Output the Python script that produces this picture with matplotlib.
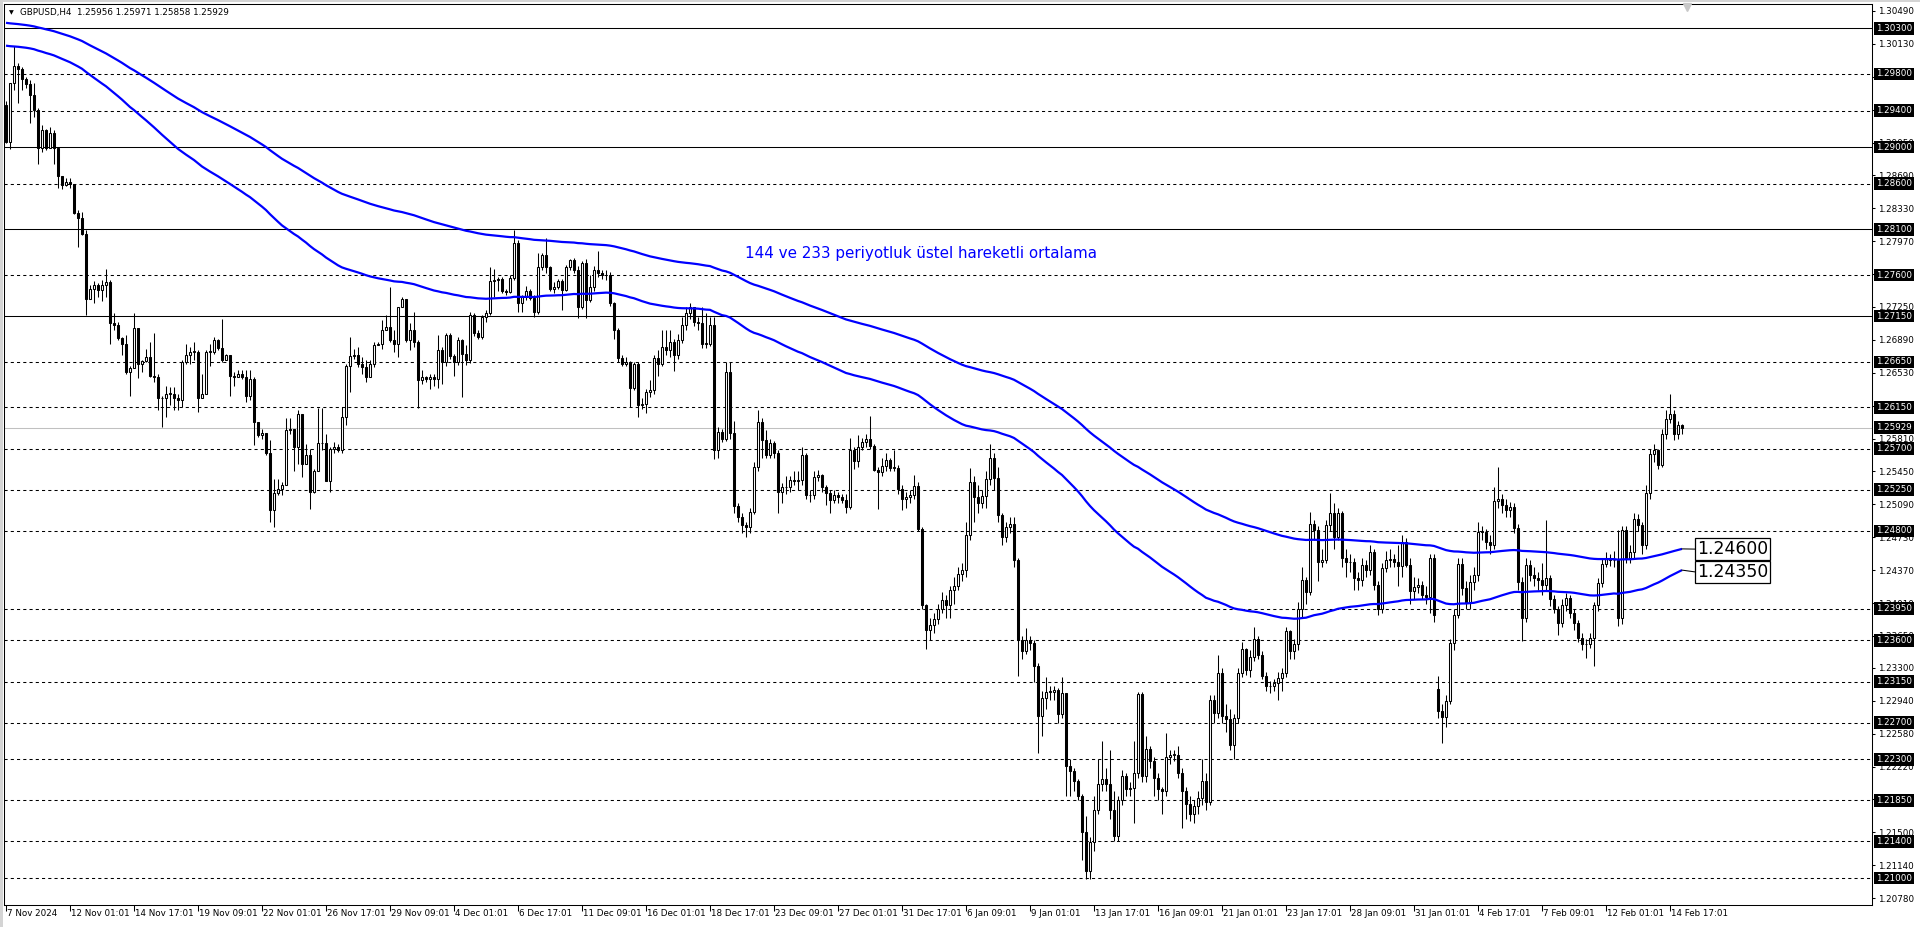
import matplotlib
matplotlib.use("Agg")
import matplotlib.pyplot as plt
import matplotlib.transforms as mtransforms
from matplotlib.patches import Rectangle
import numpy as np

plt.rcParams['font.family'] = ['DejaVu Sans']

# ---------------- data ----------------
title_text = "GBPUSD,H4  1.25956 1.25971 1.25858 1.25929"
annotation = "144 ve 233 periyotluk üstel hareketli ortalama"

first_open = 1.2946
gap_opens = {358: 1.2307}

close = [
    1.2906, 1.2970, 1.2989, 1.2985, 1.2974, 1.2969, 1.2957, 1.2941, 1.2899, 1.2919,
    1.2899, 1.2915, 1.2899, 1.2868, 1.2858, 1.2862, 1.2860, 1.2828, 1.2822, 1.2805,
    1.2734, 1.2745, 1.2749, 1.2744, 1.2749, 1.2752, 1.2707, 1.2705, 1.2691, 1.2685,
    1.2654, 1.2658, 1.2702, 1.2663, 1.2666, 1.2670, 1.2650, 1.2648, 1.2625, 1.2625,
    1.2630, 1.2630, 1.2625, 1.2623, 1.2665, 1.2672, 1.2676, 1.2676, 1.2625, 1.2630,
    1.2676, 1.2676, 1.2689, 1.2680, 1.2667, 1.2672, 1.2650, 1.2648, 1.2652, 1.2648,
    1.2628, 1.2646, 1.2599, 1.2585, 1.2587, 1.2565, 1.2503, 1.2521, 1.2526, 1.2530,
    1.2590, 1.2592, 1.2572, 1.2608, 1.2553, 1.2563, 1.2523, 1.2546, 1.2576, 1.2576,
    1.2535, 1.2570, 1.2572, 1.2568, 1.2605, 1.2660, 1.2671, 1.2672, 1.2663, 1.2659,
    1.2648, 1.2663, 1.2683, 1.2685, 1.2700, 1.2703, 1.2689, 1.2685, 1.2725, 1.2734,
    1.2689, 1.2700, 1.2687, 1.2645, 1.2648, 1.2646, 1.2648, 1.2646, 1.2678, 1.2665,
    1.2694, 1.2671, 1.2665, 1.2689, 1.2674, 1.2667, 1.2716, 1.2696, 1.2692, 1.2714,
    1.2718, 1.2753, 1.2754, 1.2756, 1.2742, 1.2741, 1.2757, 1.2795, 1.2729, 1.2736,
    1.2742, 1.2735, 1.2719, 1.2769, 1.2782, 1.2769, 1.2745, 1.2747, 1.2753, 1.2744,
    1.2769, 1.2776, 1.2765, 1.2725, 1.2773, 1.2733, 1.2747, 1.2765, 1.2762, 1.2760,
    1.2760, 1.2729, 1.2700, 1.2669, 1.2663, 1.2665, 1.2636, 1.2663, 1.2618, 1.2619,
    1.2632, 1.2634, 1.2669, 1.2663, 1.2681, 1.2678, 1.2687, 1.2672, 1.2689, 1.2705,
    1.2718, 1.2725, 1.2709, 1.2707, 1.2685, 1.2685, 1.2705, 1.2569, 1.2588, 1.2581,
    1.2654, 1.2587, 1.2507, 1.2495, 1.2486, 1.2484, 1.2501, 1.2550, 1.2599, 1.2579,
    1.2563, 1.2576, 1.2565, 1.2523, 1.2528, 1.2528, 1.2536, 1.2535, 1.2536, 1.2563,
    1.2519, 1.2519, 1.2539, 1.2541, 1.2528, 1.2521, 1.2514, 1.2519, 1.2517, 1.2514,
    1.2506, 1.2569, 1.2556, 1.2572, 1.2577, 1.2581, 1.2573, 1.2547, 1.2544, 1.2551,
    1.2557, 1.2549, 1.2549, 1.2526, 1.2515, 1.2517, 1.2519, 1.2529, 1.2482, 1.2399,
    1.2371, 1.2377, 1.2384, 1.2395, 1.2404, 1.2399, 1.2415, 1.2420, 1.2433, 1.2437,
    1.2475, 1.2533, 1.2517, 1.2511, 1.2518, 1.2537, 1.2560, 1.2538, 1.2497, 1.2473,
    1.2484, 1.2487, 1.2448, 1.2360, 1.2348, 1.2360, 1.2357, 1.2332, 1.2277, 1.2297,
    1.2304, 1.2304, 1.2306, 1.2279, 1.2302, 1.2223, 1.2217, 1.2206, 1.2190, 1.2150,
    1.2108, 1.2139, 1.2174, 1.2203, 1.2208, 1.2203, 1.2175, 1.2146, 1.2185, 1.2212,
    1.2197, 1.2199, 1.2215, 1.2301, 1.2212, 1.2241, 1.2228, 1.2210, 1.2197, 1.2195,
    1.2233, 1.2235, 1.2235, 1.2215, 1.2195, 1.2181, 1.2170, 1.2179, 1.2188, 1.2206,
    1.2183, 1.2295, 1.2281, 1.2324, 1.2277, 1.2274, 1.2246, 1.2275, 1.2324, 1.2351,
    1.2328, 1.2342, 1.2362, 1.2344, 1.2321, 1.2310, 1.2310, 1.2313, 1.2319, 1.2324,
    1.2370, 1.2348, 1.2356, 1.2395, 1.2426, 1.2413, 1.2488, 1.2481, 1.2446, 1.2448,
    1.2486, 1.2499, 1.2473, 1.2499, 1.2450, 1.2446, 1.2446, 1.2428, 1.2426, 1.2443,
    1.2437, 1.2457, 1.2421, 1.2395, 1.2439, 1.2448, 1.2449, 1.2446, 1.2441, 1.2468,
    1.2443, 1.2414, 1.2419, 1.2421, 1.2410, 1.2408, 1.2450, 1.2388, 1.2283, 1.2276,
    1.2294, 1.2357, 1.2388, 1.2444, 1.2417, 1.2401, 1.2424, 1.2432, 1.2479, 1.2479,
    1.2468, 1.2465, 1.2513, 1.2515, 1.2508, 1.2503, 1.2506, 1.2483, 1.2424, 1.2385,
    1.2443, 1.2432, 1.2428, 1.2426, 1.2421, 1.2428, 1.2405, 1.2395, 1.2379, 1.2399,
    1.2406, 1.2390, 1.2379, 1.2363, 1.2356, 1.2356, 1.2363, 1.2399, 1.2423, 1.2444,
    1.2450, 1.2448, 1.2448, 1.2385, 1.2481, 1.2450, 1.2457, 1.2493, 1.2486, 1.2464,
    1.2521, 1.2564, 1.2568, 1.2552, 1.2586, 1.2602, 1.2608, 1.2586, 1.2596, 1.2593,
]

high = [
    1.2950, 1.2970, 1.3011, 1.2992, 1.2988, 1.2977, 1.2973, 1.2970, 1.2943, 1.2924,
    1.2920, 1.2922, 1.2919, 1.2899, 1.2868, 1.2866, 1.2866, 1.2860, 1.2831, 1.2829,
    1.2809, 1.2749, 1.2753, 1.2751, 1.2754, 1.2767, 1.2754, 1.2718, 1.2709, 1.2692,
    1.2694, 1.2660, 1.2718, 1.2702, 1.2667, 1.2679, 1.2687, 1.2696, 1.2652, 1.2628,
    1.2639, 1.2637, 1.2637, 1.2630, 1.2667, 1.2685, 1.2681, 1.2687, 1.2678, 1.2652,
    1.2678, 1.2685, 1.2692, 1.2690, 1.2712, 1.2674, 1.2672, 1.2654, 1.2656, 1.2656,
    1.2656, 1.2656, 1.2648, 1.2599, 1.2592, 1.2581, 1.2579, 1.2537, 1.2537, 1.2533,
    1.2603, 1.2603, 1.2592, 1.2612, 1.2608, 1.2575, 1.2570, 1.2548, 1.2614, 1.2614,
    1.2586, 1.2572, 1.2577, 1.2575, 1.2616, 1.2663, 1.2692, 1.2679, 1.2681, 1.2670,
    1.2667, 1.2667, 1.2687, 1.2687, 1.2711, 1.2716, 1.2747, 1.2700, 1.2725, 1.2736,
    1.2729, 1.2707, 1.2720, 1.2689, 1.2656, 1.2650, 1.2652, 1.2652, 1.2694, 1.2681,
    1.2696, 1.2696, 1.2674, 1.2692, 1.2690, 1.2683, 1.2719, 1.2718, 1.2700, 1.2716,
    1.2722, 1.2769, 1.2767, 1.2758, 1.2758, 1.2745, 1.2760, 1.2809, 1.2798, 1.2738,
    1.2748, 1.2745, 1.2738, 1.2784, 1.2784, 1.2800, 1.2770, 1.2752, 1.2756, 1.2756,
    1.2771, 1.2778, 1.2779, 1.2770, 1.2775, 1.2778, 1.2760, 1.2770, 1.2786, 1.2766,
    1.2766, 1.2763, 1.2731, 1.2702, 1.2672, 1.2670, 1.2666, 1.2665, 1.2665, 1.2625,
    1.2635, 1.2645, 1.2672, 1.2678, 1.2700, 1.2700, 1.2700, 1.2690, 1.2695, 1.2714,
    1.2725, 1.2729, 1.2725, 1.2714, 1.2725, 1.2718, 1.2714, 1.2714, 1.2594, 1.2592,
    1.2665, 1.2665, 1.2600, 1.2510, 1.2500, 1.2490, 1.2505, 1.2555, 1.2612, 1.2603,
    1.2590, 1.2580, 1.2578, 1.2568, 1.2532, 1.2540, 1.2540, 1.2545, 1.2545, 1.2572,
    1.2565, 1.2525, 1.2545, 1.2547, 1.2542, 1.2530, 1.2525, 1.2525, 1.2522, 1.2520,
    1.2520, 1.2582, 1.2572, 1.2585, 1.2582, 1.2586, 1.2606, 1.2575, 1.2550, 1.2560,
    1.2565, 1.2560, 1.2569, 1.2552, 1.2530, 1.2522, 1.2525, 1.2541, 1.2533, 1.2484,
    1.2400, 1.2385, 1.2390, 1.2400, 1.2413, 1.2410, 1.2420, 1.2430, 1.2440, 1.2445,
    1.2490, 1.2549, 1.2540, 1.2530, 1.2525, 1.2545, 1.2575, 1.2565, 1.2550, 1.2500,
    1.2490, 1.2495, 1.2495, 1.2450, 1.2365, 1.2374, 1.2365, 1.2360, 1.2335, 1.2305,
    1.2320, 1.2310, 1.2310, 1.2308, 1.2320, 1.2303, 1.2230, 1.2220, 1.2208, 1.2192,
    1.2168, 1.2145, 1.2190, 1.2230, 1.2250, 1.2220, 1.2240, 1.2195, 1.2190, 1.2218,
    1.2215, 1.2205, 1.2250, 1.2304, 1.2304, 1.2255, 1.2245, 1.2232, 1.2215, 1.2200,
    1.2259, 1.2240, 1.2240, 1.2245, 1.2220, 1.2200, 1.2190, 1.2185, 1.2195, 1.2230,
    1.2215, 1.2300, 1.2300, 1.2344, 1.2330, 1.2290, 1.2285, 1.2280, 1.2330, 1.2358,
    1.2352, 1.2350, 1.2375, 1.2365, 1.2348, 1.2325, 1.2316, 1.2318, 1.2325, 1.2330,
    1.2375, 1.2372, 1.2362, 1.2402, 1.2440, 1.2430, 1.2501, 1.2492, 1.2485, 1.2460,
    1.2492, 1.2521, 1.2510, 1.2505, 1.2502, 1.2460, 1.2455, 1.2450, 1.2435, 1.2450,
    1.2448, 1.2465, 1.2460, 1.2425, 1.2445, 1.2458, 1.2460, 1.2455, 1.2465, 1.2475,
    1.2472, 1.2450, 1.2430, 1.2428, 1.2425, 1.2420, 1.2455, 1.2455, 1.2321, 1.2290,
    1.2300, 1.2362, 1.2395, 1.2450, 1.2450, 1.2425, 1.2432, 1.2440, 1.2490, 1.2485,
    1.2482, 1.2475, 1.2528, 1.2550, 1.2520, 1.2515, 1.2512, 1.2510, 1.2488, 1.2430,
    1.2450, 1.2448, 1.2440, 1.2435, 1.2445, 1.2492, 1.2432, 1.2410, 1.2398, 1.2405,
    1.2412, 1.2410, 1.2395, 1.2382, 1.2368, 1.2362, 1.2368, 1.2402, 1.2428, 1.2450,
    1.2457, 1.2455, 1.2458, 1.2481, 1.2485, 1.2485, 1.2465, 1.2500, 1.2498, 1.2490,
    1.2530, 1.2570, 1.2575, 1.2570, 1.2592, 1.2612, 1.2630, 1.2612, 1.2600, 1.2597,
]

low = [
    1.2904, 1.2898, 1.2963, 1.2948, 1.2963, 1.2965, 1.2926, 1.2933, 1.2882, 1.2895,
    1.2897, 1.2899, 1.2882, 1.2855, 1.2854, 1.2857, 1.2855, 1.2827, 1.2791, 1.2804,
    1.2716, 1.2734, 1.2729, 1.2736, 1.2732, 1.2736, 1.2685, 1.2700, 1.2689, 1.2672,
    1.2652, 1.2628, 1.2658, 1.2647, 1.2654, 1.2665, 1.2648, 1.2643, 1.2612, 1.2594,
    1.2605, 1.2618, 1.2612, 1.2612, 1.2616, 1.2663, 1.2663, 1.2667, 1.2610, 1.2625,
    1.2630, 1.2660, 1.2674, 1.2678, 1.2665, 1.2667, 1.2628, 1.2639, 1.2648, 1.2646,
    1.2621, 1.2623, 1.2574, 1.2583, 1.2581, 1.2563, 1.2490, 1.2484, 1.2519, 1.2519,
    1.2570, 1.2586, 1.2546, 1.2553, 1.2539, 1.2553, 1.2504, 1.2521, 1.2545, 1.2568,
    1.2534, 1.2523, 1.2565, 1.2566, 1.2565, 1.2596, 1.2632, 1.2668, 1.2659, 1.2652,
    1.2643, 1.2648, 1.2659, 1.2683, 1.2679, 1.2700, 1.2687, 1.2676, 1.2670, 1.2725,
    1.2687, 1.2678, 1.2681, 1.2614, 1.2641, 1.2643, 1.2635, 1.2638, 1.2636, 1.2641,
    1.2660, 1.2668, 1.2649, 1.2662, 1.2627, 1.2662, 1.2664, 1.2693, 1.2690, 1.2690,
    1.2709, 1.2716, 1.2736, 1.2742, 1.2740, 1.2738, 1.2740, 1.2755, 1.2720, 1.2720,
    1.2733, 1.2733, 1.2714, 1.2717, 1.2765, 1.2762, 1.2742, 1.2740, 1.2745, 1.2722,
    1.2742, 1.2765, 1.2762, 1.2713, 1.2723, 1.2713, 1.2730, 1.2742, 1.2758, 1.2756,
    1.2755, 1.2726, 1.2690, 1.2665, 1.2660, 1.2660, 1.2616, 1.2634, 1.2605, 1.2613,
    1.2609, 1.2627, 1.2630, 1.2650, 1.2660, 1.2672, 1.2670, 1.2655, 1.2668, 1.2686,
    1.2700, 1.2712, 1.2704, 1.2700, 1.2680, 1.2680, 1.2682, 1.2559, 1.2560, 1.2577,
    1.2578, 1.2580, 1.2500, 1.2490, 1.2478, 1.2473, 1.2478, 1.2498, 1.2545, 1.2560,
    1.2560, 1.2560, 1.2560, 1.2500, 1.2510, 1.2520, 1.2522, 1.2530, 1.2525, 1.2530,
    1.2515, 1.2512, 1.2515, 1.2535, 1.2522, 1.2508, 1.2500, 1.2510, 1.2510, 1.2510,
    1.2500, 1.2504, 1.2548, 1.2550, 1.2568, 1.2572, 1.2570, 1.2545, 1.2504, 1.2540,
    1.2545, 1.2545, 1.2545, 1.2520, 1.2503, 1.2505, 1.2510, 1.2515, 1.2480, 1.2394,
    1.2351, 1.2360, 1.2368, 1.2378, 1.2390, 1.2385, 1.2385, 1.2400, 1.2415, 1.2425,
    1.2430, 1.2470, 1.2490, 1.2500, 1.2505, 1.2505, 1.2530, 1.2525, 1.2490, 1.2465,
    1.2468, 1.2478, 1.2440, 1.2321, 1.2340, 1.2345, 1.2350, 1.2315, 1.2237, 1.2255,
    1.2285, 1.2295, 1.2295, 1.2270, 1.2275, 1.2190, 1.2190, 1.2195, 1.2185, 1.2120,
    1.2099, 1.2099, 1.2130, 1.2170, 1.2195, 1.2195, 1.2165, 1.2140, 1.2140, 1.2180,
    1.2190, 1.2190, 1.2160, 1.2210, 1.2205, 1.2205, 1.2220, 1.2190, 1.2185, 1.2170,
    1.2190, 1.2225, 1.2228, 1.2210, 1.2155, 1.2165, 1.2162, 1.2160, 1.2170, 1.2180,
    1.2175, 1.2180, 1.2270, 1.2275, 1.2270, 1.2260, 1.2240, 1.2230, 1.2270, 1.2320,
    1.2322, 1.2320, 1.2338, 1.2340, 1.2318, 1.2305, 1.2302, 1.2305, 1.2295, 1.2305,
    1.2320, 1.2340, 1.2340, 1.2350, 1.2385, 1.2400, 1.2410, 1.2470, 1.2425, 1.2440,
    1.2445, 1.2480, 1.2460, 1.2470, 1.2440, 1.2430, 1.2435, 1.2415, 1.2415, 1.2420,
    1.2430, 1.2432, 1.2415, 1.2388, 1.2390, 1.2435, 1.2440, 1.2440, 1.2420, 1.2430,
    1.2440, 1.2400, 1.2405, 1.2412, 1.2405, 1.2400, 1.2390, 1.2380, 1.2275, 1.2248,
    1.2265, 1.2290, 1.2350, 1.2385, 1.2410, 1.2395, 1.2395, 1.2415, 1.2425, 1.2470,
    1.2460, 1.2455, 1.2460, 1.2505, 1.2500, 1.2495, 1.2495, 1.2478, 1.2415, 1.2359,
    1.2380, 1.2425, 1.2420, 1.2415, 1.2410, 1.2415, 1.2398, 1.2390, 1.2366, 1.2375,
    1.2392, 1.2385, 1.2372, 1.2358, 1.2350, 1.2341, 1.2352, 1.2332, 1.2392, 1.2418,
    1.2440, 1.2442, 1.2440, 1.2376, 1.2378, 1.2445, 1.2445, 1.2450, 1.2480, 1.2455,
    1.2460, 1.2515, 1.2555, 1.2548, 1.2550, 1.2580, 1.2598, 1.2579, 1.2580, 1.2586,
]

ema_fast_period, ema_slow_period = 144, 233
ema_fast_start, ema_slow_start = 1.3011, 1.3036
ema_label_values = [1.24600, 1.24350]

solid_levels = [1.30300, 1.29000, 1.28100, 1.27150]
dashed_levels = [1.29800, 1.29400, 1.28600, 1.27600, 1.26650, 1.26150, 1.25700,
                 1.25250, 1.24800, 1.23950, 1.23600, 1.23150, 1.22700, 1.22300,
                 1.21850, 1.21400, 1.21000]
bid_price = 1.25929

scale_values = [1.30490, 1.30130, 1.29770, 1.29410, 1.29050, 1.28690, 1.28330,
                1.27970, 1.27610, 1.27250, 1.26890, 1.26530, 1.26170, 1.25810,
                1.25450, 1.25090, 1.24730, 1.24370, 1.24010, 1.23650, 1.23300,
                1.22940, 1.22580, 1.22220, 1.21860, 1.21500, 1.21140, 1.20780]

date_labels = ["7 Nov 2024", "12 Nov 01:01", "14 Nov 17:01", "19 Nov 09:01",
               "22 Nov 01:01", "26 Nov 17:01", "29 Nov 09:01", "4 Dec 01:01",
               "6 Dec 17:01", "11 Dec 09:01", "16 Dec 01:01", "18 Dec 17:01",
               "23 Dec 09:01", "27 Dec 01:01", "31 Dec 17:01", "6 Jan 09:01",
               "9 Jan 01:01", "13 Jan 17:01", "16 Jan 09:01", "21 Jan 01:01",
               "23 Jan 17:01", "28 Jan 09:01", "31 Jan 01:01", "4 Feb 17:01",
               "7 Feb 09:01", "12 Feb 01:01", "14 Feb 17:01"]
date_step = 16

# ---------------- figure ----------------
W, H, DPI = 1920, 927, 100
fig = plt.figure(figsize=(W / DPI, H / DPI), dpi=DPI)
fig.patch.set_facecolor('white')

# window borders (light grey) at the left and top edges
fig.patches.append(Rectangle((0, 0), 3 / W, 1, transform=fig.transFigure,
                             facecolor='#d4d4d4', edgecolor='none', zorder=0))
fig.patches.append(Rectangle((0, 1 - 1.5 / H), 1, 1.5 / H, transform=fig.transFigure,
                             facecolor='#d4d4d4', edgecolor='none', zorder=0))

ax = fig.add_axes([4 / W, 1 - 905 / H, 1868 / W, 901 / H])
ax.set_facecolor('white')
ax.set_xlim(-0.5, 466.5)
ax.set_ylim(1.20705, 1.30566)

n = len(close)
x = np.arange(n)
c = np.array(close)
hi = np.array(high)
lo = np.array(low)
o = np.empty(n)
o[0] = first_open
o[1:] = c[:-1]
for k, v in gap_opens.items():
    o[k] = v
up = c >= o


def ema(vals, period, start):
    a = 2.0 / (period + 1)
    out = [start]
    e = start
    for v in vals[1:]:
        e = e + a * (v - e)
        out.append(e)
    return np.array(out)


ema_fast = ema(close, ema_fast_period, ema_fast_start)
ema_slow = ema(close, ema_slow_period, ema_slow_start)

# levels
for lv in solid_levels:
    ax.axhline(lv, color='black', lw=0.75, zorder=1)
for lv in dashed_levels:
    ax.axhline(lv, color='black', lw=0.75, ls=(0, (3, 3)), zorder=1)
ax.axhline(bid_price, color='#c0c0c0', lw=0.75, zorder=1)

# candles
ax.vlines(x, np.minimum(lo, np.minimum(o, c)), np.maximum(hi, np.maximum(o, c)),
          colors='black', linewidth=0.75, zorder=3)
bottom = np.minimum(o, c)
height = np.maximum(np.abs(c - o), 0.00004)
ax.bar(x[up], height[up], bottom=bottom[up], width=0.5, color='white',
       edgecolor='black', linewidth=0.75, zorder=4)
ax.bar(x[~up], height[~up], bottom=bottom[~up], width=0.5, color='black',
       edgecolor='black', linewidth=0.75, zorder=4)

# EMAs
ax.plot(x, ema_slow, color='#0000ff', lw=1.6, zorder=5, solid_capstyle='butt')
ax.plot(x, ema_fast, color='#0000ff', lw=1.6, zorder=5, solid_capstyle='butt')

# EMA labels
lab_x = n + 2.75
for e_last, lv in zip([ema_slow[-1], ema_fast[-1]], ema_label_values):
    ax.plot([n - 1, lab_x - 0.4], [e_last, lv], color='black', lw=0.75, zorder=5, clip_on=False)
    ax.text(lab_x, lv, f"{lv:.5f}", fontsize=12.4, color='black', ha='left', va='center',
            bbox=dict(boxstyle='square,pad=0.12', fc='white', ec='black', lw=0.9), zorder=6)

# annotation
ax.text(184.75, 1.2784, annotation, color='#0000ff', fontsize=10.9, ha='left', va='center', zorder=6)

# spines
for s in ax.spines.values():
    s.set_color('black')
    s.set_linewidth(0.75)

# right price scale
ax.yaxis.tick_right()
ax.set_yticks(scale_values)
ax.set_yticklabels([f"{v:.5f}" for v in scale_values], fontsize=6.3)
ax.tick_params(axis='y', direction='out', length=2.5, width=0.75, pad=1.5, colors='black')

trans = mtransforms.blended_transform_factory(ax.transAxes, ax.transData)
trans_off = mtransforms.offset_copy(trans, fig=fig, x=4, y=0, units='dots')
for lv in solid_levels + dashed_levels + [bid_price]:
    ax.text(1.0, lv, f"{lv:.5f}", transform=trans_off, color='white', fontsize=6.3,
            ha='left', va='center', clip_on=False, zorder=10,
            bbox=dict(boxstyle='square,pad=0.2', fc='black', ec='none'))

# time scale
positions = [i * date_step for i in range(len(date_labels))]
ax.set_xticks(positions)
ax.set_xticklabels([])
ax.tick_params(axis='x', direction='out', length=4, width=0.75, colors='black')
transx = mtransforms.blended_transform_factory(ax.transData, ax.transAxes)
transx_off = mtransforms.offset_copy(transx, fig=fig, x=1, y=-9, units='dots')
for p, lab in zip(positions, date_labels):
    ax.text(p, 0, lab, transform=transx_off, fontsize=6.3, ha='left', va='center', clip_on=False)

# title
fig.text(20 / W, 1 - 13 / H, title_text, fontsize=6.3, ha='left', va='center')
fig.text(9 / W, 1 - 13 / H, "\u25BC", fontsize=4.5, ha='left', va='center')

# chart shift marker
ax.plot([420.25], [0.997], marker='v', color='#c8c8c8', markersize=6,
        transform=mtransforms.blended_transform_factory(ax.transData, ax.transAxes),
        clip_on=False, zorder=7)

fig.savefig("out.png", dpi=DPI, facecolor='white')
